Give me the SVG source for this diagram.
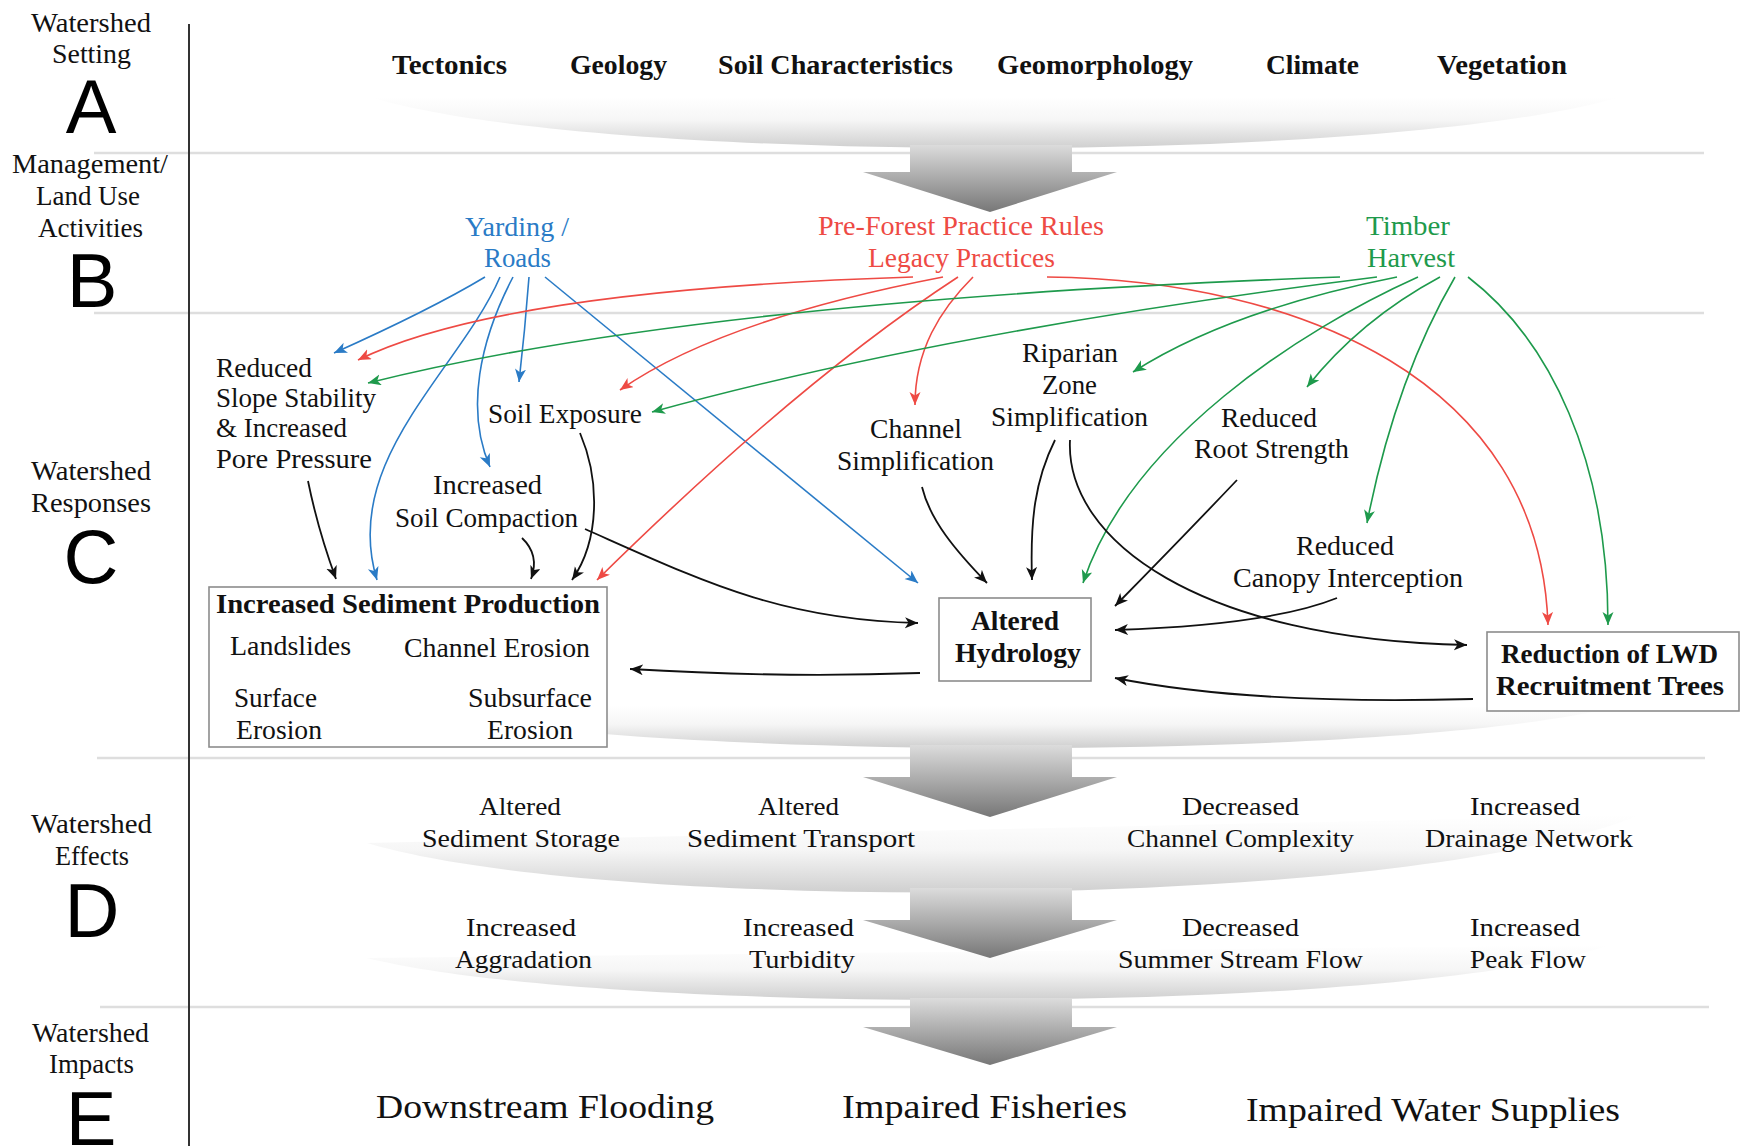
<svg xmlns="http://www.w3.org/2000/svg" width="1741" height="1146" viewBox="0 0 1741 1146">
<style>
text{font-family:"Liberation Serif","Times New Roman",serif;font-size:27px;fill:#111}
.b{font-weight:bold}
.d{font-size:26px}
.e{font-size:33px}
.big{font-family:"Liberation Sans",Arial,sans-serif;font-size:76px;text-anchor:middle;fill:#000}
.blue{fill:#2a7bc6}
.red{fill:#ee4a44}
.green{fill:#1e9a4c}
.sep{stroke:#dedede;stroke-width:2.5;fill:none}
.box{fill:#fff;stroke:#8c8c8c;stroke-width:1.6}
.c{fill:none;stroke-width:1.6}
.cb{stroke:#2a7bc6;marker-end:url(#mb)}
.cr{stroke:#ee4a44;marker-end:url(#mr)}
.cg{stroke:#1e9a4c;marker-end:url(#mg)}
.ck{stroke:#111;stroke-width:1.8;marker-end:url(#mk)}
.sw{stroke:none}
.arr{fill:url(#ga);stroke:none}
</style>
<defs>
<linearGradient id="gs" x1="0" y1="0" x2="0" y2="1">
<stop offset="0" stop-color="#fff"/>
<stop offset="0.45" stop-color="#f6f6f6"/>
<stop offset="1" stop-color="#cfcfcf"/>
</linearGradient>
<linearGradient id="ga" x1="0" y1="0" x2="0" y2="1">
<stop offset="0" stop-color="#dcdcdc"/>
<stop offset="1" stop-color="#777"/>
</linearGradient>
<marker id="mb" markerUnits="userSpaceOnUse" markerWidth="14" markerHeight="12" refX="13" refY="5.5" orient="auto"><path d="M0,0 L13,5.5 L0,11 L3.5,5.5 Z" fill="#2a7bc6"/></marker>
<marker id="mr" markerUnits="userSpaceOnUse" markerWidth="14" markerHeight="12" refX="13" refY="5.5" orient="auto"><path d="M0,0 L13,5.5 L0,11 L3.5,5.5 Z" fill="#ee4a44"/></marker>
<marker id="mg" markerUnits="userSpaceOnUse" markerWidth="14" markerHeight="12" refX="13" refY="5.5" orient="auto"><path d="M0,0 L13,5.5 L0,11 L3.5,5.5 Z" fill="#1e9a4c"/></marker>
<marker id="mk" markerUnits="userSpaceOnUse" markerWidth="14" markerHeight="12" refX="13" refY="5.5" orient="auto"><path d="M0,0 L13,5.5 L0,11 L3.5,5.5 Z" fill="#111"/></marker>
</defs>
<rect width="1741" height="1146" fill="#fff"/>

<g id="background">
<path class="sw" fill="url(#gs)" d="M373,98 C600,165 1390,165 1620,97 Z"/>
<path class="sw" fill="url(#gs)" d="M390,705 C620,762 1390,762 1615,707 Z"/>
<path class="sw" fill="url(#gs)" d="M367,843 C600,913 1400,913 1640,815 Z"/>
<path class="sw" fill="url(#gs)" d="M367,958 C600,1016 1400,1016 1610,945 Z"/>
<line class="sep" x1="94" y1="153" x2="1704" y2="153"/>
<line class="sep" x1="94" y1="313" x2="1704" y2="313"/>
<line class="sep" x1="97" y1="758" x2="1705" y2="758"/>
<line class="sep" x1="100" y1="1007" x2="1709" y2="1007"/>
<line x1="189" y1="24" x2="189" y2="1146" stroke="#333" stroke-width="2"/>
<path class="arr" d="M910,145 H1072 V172 H1117 L990,212 L863,172 H910 Z"/>
<path class="arr" d="M910,745 H1072 V777 H1117 L990,817 L863,777 H910 Z"/>
<path class="arr" d="M910,888 H1072 V920 H1117 L990,958 L863,920 H910 Z"/>
<path class="arr" d="M910,998 H1072 V1027 H1117 L990,1065 L863,1027 H910 Z"/>
</g>

<g id="stage-labels">
<text x="31" y="32" textLength="120" lengthAdjust="spacingAndGlyphs">Watershed</text>
<text x="52" y="63" textLength="79" lengthAdjust="spacingAndGlyphs">Setting</text>
<text class="big" x="91" y="133">A</text>
<text x="12" y="173" textLength="156" lengthAdjust="spacingAndGlyphs">Management/</text>
<text x="36" y="205" textLength="104" lengthAdjust="spacingAndGlyphs">Land Use</text>
<text x="38" y="237" textLength="105" lengthAdjust="spacingAndGlyphs">Activities</text>
<text class="big" x="92" y="307">B</text>
<text x="31" y="480" textLength="120" lengthAdjust="spacingAndGlyphs">Watershed</text>
<text x="31" y="512" textLength="120" lengthAdjust="spacingAndGlyphs">Responses</text>
<text class="big" x="91" y="583">C</text>
<text x="31" y="833" textLength="121" lengthAdjust="spacingAndGlyphs">Watershed</text>
<text x="55" y="865" textLength="74" lengthAdjust="spacingAndGlyphs">Effects</text>
<text class="big" x="92" y="937">D</text>
<text x="32" y="1042" textLength="117" lengthAdjust="spacingAndGlyphs">Watershed</text>
<text x="49" y="1073" textLength="85" lengthAdjust="spacingAndGlyphs">Impacts</text>
<text class="big" x="91" y="1145">E</text>
</g>

<g id="setting">
<text class="b" x="392" y="74" textLength="115" lengthAdjust="spacingAndGlyphs">Tectonics</text>
<text class="b" x="570" y="74" textLength="97" lengthAdjust="spacingAndGlyphs">Geology</text>
<text class="b" x="718" y="74" textLength="235" lengthAdjust="spacingAndGlyphs">Soil Characteristics</text>
<text class="b" x="997" y="74" textLength="196" lengthAdjust="spacingAndGlyphs">Geomorphology</text>
<text class="b" x="1266" y="74" textLength="93" lengthAdjust="spacingAndGlyphs">Climate</text>
<text class="b" x="1437" y="74" textLength="130" lengthAdjust="spacingAndGlyphs">Vegetation</text>
</g>

<g id="yarding-roads">
<text class="blue" x="465" y="236" textLength="104" lengthAdjust="spacingAndGlyphs">Yarding /</text>
<text class="blue" x="484" y="267" textLength="67" lengthAdjust="spacingAndGlyphs">Roads</text>
</g>
<g id="legacy-practices">
<text class="red" x="818" y="235" textLength="286" lengthAdjust="spacingAndGlyphs">Pre-Forest Practice Rules</text>
<text class="red" x="868" y="267" textLength="187" lengthAdjust="spacingAndGlyphs">Legacy Practices</text>
</g>
<g id="timber-harvest">
<text class="green" x="1366" y="235" textLength="84" lengthAdjust="spacingAndGlyphs">Timber</text>
<text class="green" x="1367" y="267" textLength="88" lengthAdjust="spacingAndGlyphs">Harvest</text>
</g>

<g id="reduced-slope-stability">
<text x="216" y="377" textLength="96" lengthAdjust="spacingAndGlyphs">Reduced</text>
<text x="216" y="407" textLength="160" lengthAdjust="spacingAndGlyphs">Slope Stability</text>
<text x="216" y="437" textLength="131" lengthAdjust="spacingAndGlyphs">&amp; Increased</text>
<text x="216" y="468" textLength="156" lengthAdjust="spacingAndGlyphs">Pore Pressure</text>
</g>
<g id="soil-exposure">
<text x="488" y="423" textLength="154" lengthAdjust="spacingAndGlyphs">Soil Exposure</text>
</g>
<g id="soil-compaction">
<text x="433" y="494" textLength="109" lengthAdjust="spacingAndGlyphs">Increased</text>
<text x="395" y="527" textLength="183" lengthAdjust="spacingAndGlyphs">Soil Compaction</text>
</g>
<g id="channel-simplification">
<text x="870" y="438" textLength="92" lengthAdjust="spacingAndGlyphs">Channel</text>
<text x="837" y="470" textLength="157" lengthAdjust="spacingAndGlyphs">Simplification</text>
</g>
<g id="riparian-zone">
<text x="1022" y="362" textLength="96" lengthAdjust="spacingAndGlyphs">Riparian</text>
<text x="1042" y="394" textLength="55" lengthAdjust="spacingAndGlyphs">Zone</text>
<text x="991" y="426" textLength="157" lengthAdjust="spacingAndGlyphs">Simplification</text>
</g>
<g id="root-strength">
<text x="1221" y="427" textLength="96" lengthAdjust="spacingAndGlyphs">Reduced</text>
<text x="1194" y="458" textLength="155" lengthAdjust="spacingAndGlyphs">Root Strength</text>
</g>
<g id="canopy-interception">
<text x="1296" y="555" textLength="98" lengthAdjust="spacingAndGlyphs">Reduced</text>
<text x="1233" y="587" textLength="230" lengthAdjust="spacingAndGlyphs">Canopy Interception</text>
</g>
<g id="sediment-production">
<rect class="box" x="209" y="587" width="398" height="160"/>
<text class="b" x="216" y="613" textLength="384" lengthAdjust="spacingAndGlyphs">Increased Sediment Production</text>
<text x="230" y="655" textLength="121" lengthAdjust="spacingAndGlyphs">Landslides</text>
<text x="404" y="657" textLength="186" lengthAdjust="spacingAndGlyphs">Channel Erosion</text>
<text x="234" y="707" textLength="83" lengthAdjust="spacingAndGlyphs">Surface</text>
<text x="236" y="739" textLength="86" lengthAdjust="spacingAndGlyphs">Erosion</text>
<text x="468" y="707" textLength="124" lengthAdjust="spacingAndGlyphs">Subsurface</text>
<text x="487" y="739" textLength="86" lengthAdjust="spacingAndGlyphs">Erosion</text>
</g>
<g id="altered-hydrology">
<rect class="box" x="939" y="598" width="152" height="83"/>
<text class="b" x="971" y="630" textLength="88" lengthAdjust="spacingAndGlyphs">Altered</text>
<text class="b" x="955" y="662" textLength="126" lengthAdjust="spacingAndGlyphs">Hydrology</text>
</g>
<g id="lwd-reduction">
<rect class="box" x="1487" y="632" width="252" height="79"/>
<text class="b" x="1501" y="663" textLength="217" lengthAdjust="spacingAndGlyphs">Reduction of LWD</text>
<text class="b" x="1496" y="695" textLength="228" lengthAdjust="spacingAndGlyphs">Recruitment Trees</text>
</g>

<g id="effects">
<text class="d" x="479" y="815" textLength="82" lengthAdjust="spacingAndGlyphs">Altered</text>
<text class="d" x="422" y="847" textLength="198" lengthAdjust="spacingAndGlyphs">Sediment Storage</text>
<text class="d" x="758" y="815" textLength="81" lengthAdjust="spacingAndGlyphs">Altered</text>
<text class="d" x="687" y="847" textLength="228" lengthAdjust="spacingAndGlyphs">Sediment Transport</text>
<text class="d" x="1182" y="815" textLength="117" lengthAdjust="spacingAndGlyphs">Decreased</text>
<text class="d" x="1127" y="847" textLength="227" lengthAdjust="spacingAndGlyphs">Channel Complexity</text>
<text class="d" x="1470" y="815" textLength="110" lengthAdjust="spacingAndGlyphs">Increased</text>
<text class="d" x="1425" y="847" textLength="208" lengthAdjust="spacingAndGlyphs">Drainage Network</text>
<text class="d" x="466" y="936" textLength="110" lengthAdjust="spacingAndGlyphs">Increased</text>
<text class="d" x="455" y="968" textLength="137" lengthAdjust="spacingAndGlyphs">Aggradation</text>
<text class="d" x="743" y="936" textLength="111" lengthAdjust="spacingAndGlyphs">Increased</text>
<text class="d" x="749" y="968" textLength="106" lengthAdjust="spacingAndGlyphs">Turbidity</text>
<text class="d" x="1182" y="936" textLength="117" lengthAdjust="spacingAndGlyphs">Decreased</text>
<text class="d" x="1118" y="968" textLength="245" lengthAdjust="spacingAndGlyphs">Summer Stream Flow</text>
<text class="d" x="1470" y="936" textLength="110" lengthAdjust="spacingAndGlyphs">Increased</text>
<text class="d" x="1470" y="968" textLength="116" lengthAdjust="spacingAndGlyphs">Peak Flow</text>
</g>
<g id="impacts">
<text class="e" x="376" y="1118" textLength="338" lengthAdjust="spacingAndGlyphs">Downstream Flooding</text>
<text class="e" x="842" y="1118" textLength="285" lengthAdjust="spacingAndGlyphs">Impaired Fisheries</text>
<text class="e" x="1246" y="1121" textLength="374" lengthAdjust="spacingAndGlyphs">Impaired Water Supplies</text>
</g>

<g id="connectors">
<path class="c cb" d="M485,277 Q430,310 334,353"/>
<path class="c cb" d="M500,277 C460,370 340,460 377,580"/>
<path class="c cb" d="M513,277 C480,340 465,410 490,467"/>
<path class="c cb" d="M529,277 Q525,330 519,382"/>
<path class="c cb" d="M545,277 L918,583"/>
<path class="c cr" d="M913,277 Q500,290 358,360"/>
<path class="c cr" d="M943,277 Q720,320 620,390"/>
<path class="c cr" d="M958,277 Q800,380 597,580"/>
<path class="c cr" d="M973,277 C940,310 915,350 915,405"/>
<path class="c cr" d="M1047,277 C1300,280 1540,380 1548,625"/>
<path class="c cg" d="M1340,277 Q700,300 368,383"/>
<path class="c cg" d="M1377,277 Q950,330 652,412"/>
<path class="c cg" d="M1397,277 Q1230,310 1133,372"/>
<path class="c cg" d="M1418,277 C1300,330 1130,440 1083,583"/>
<path class="c cg" d="M1440,277 Q1360,320 1307,387"/>
<path class="c cg" d="M1455,277 Q1395,380 1367,523"/>
<path class="c cg" d="M1468,277 C1550,340 1608,460 1608,625"/>
<path class="c ck" d="M308,481 Q318,530 336,579"/>
<path class="c ck" d="M522,538 Q540,555 531,579"/>
<path class="c ck" d="M580,433 C600,480 600,540 572,580"/>
<path class="c ck" d="M585,529 C700,580 780,620 918,623"/>
<path class="c ck" d="M920,673 Q780,678 630,669"/>
<path class="c ck" d="M922,487 C930,520 955,550 987,583"/>
<path class="c ck" d="M1055,440 C1035,480 1030,520 1032,580"/>
<path class="c ck" d="M1070,440 C1065,540 1200,640 1467,645"/>
<path class="c ck" d="M1237,480 Q1180,540 1115,606"/>
<path class="c ck" d="M1337,598 Q1270,625 1115,630"/>
<path class="c ck" d="M1473,699 Q1250,705 1115,678"/>
</g>
</svg>
